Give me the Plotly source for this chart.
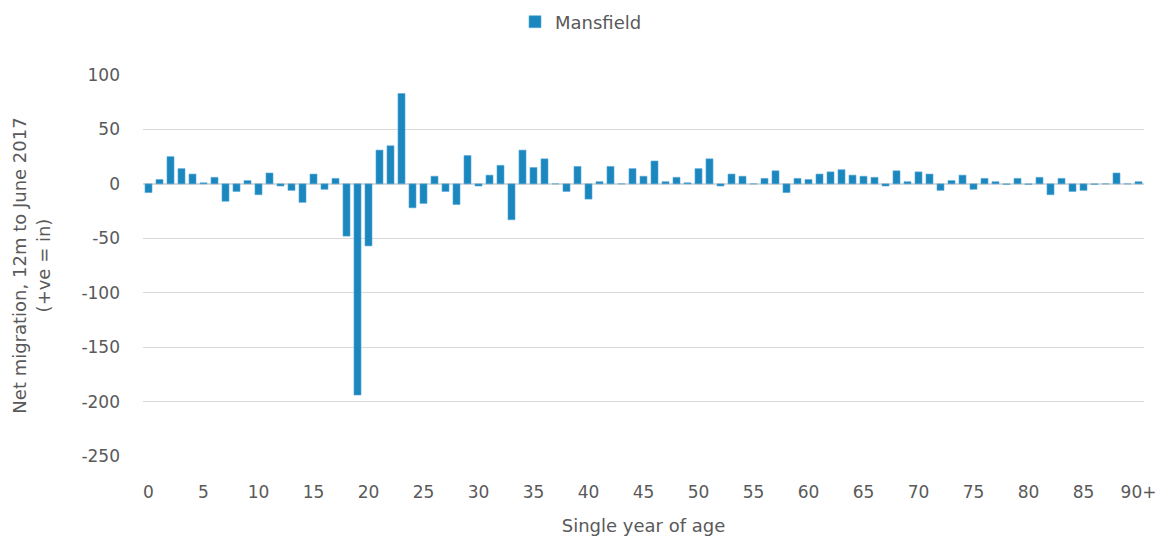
import plotly.graph_objects as go

ages = [str(i) for i in range(90)] + ["90+"]
values = [
    -8, 4, 25, 14, 9, 1, 6, -16, -7, 3,
    -10, 10, -2, -6, -17, 9, -5, 5, -48, -194,
    -57, 31, 35, 83, -22, -18, 7, -7, -19, 26,
    -2, 8, 17, -33, 31, 15, 23, 0, -7, 16,
    -14, 2, 16, 0, 14, 7, 21, 2, 6, 1,
    14, 23, -2, 9, 7, 0, 5, 12, -8, 5,
    4, 9, 11, 13, 8, 7, 6, -2, 12, 2,
    11, 9, -6, 3, 8, -5, 5, 2, -0.5, 5,
    -0.5, 6, -10, 5, -7, -6, -0.5, 0, 10, 0,
    2,
]
x_tick_labels = [str(i) for i in range(0, 90, 5)] + ["90+"]
y_ticks = [100, 50, 0, -50, -100, -150, -200, -250]
y_tick_labels = ["100", "50", "0", "-50", "-100", "-150", "-200", "-250"]

FONT = "DejaVu Sans"
GREY = "#595959"

fig = go.Figure()
fig.add_trace(go.Bar(
    x=ages, y=values, name="Mansfield",
    marker=dict(color="#1a87bf", line=dict(color="#5aaad6", width=0.6)),
    showlegend=True,
))

fig.update_layout(
    width=1162, height=538,
    margin=dict(l=143, r=18, t=75, b=82, autoexpand=False),
    paper_bgcolor="white", plot_bgcolor="white",
    bargap=0.36,
    font=dict(family=FONT, color=GREY, size=17),
    legend=dict(orientation="h", x=0.5, xanchor="center", xref="container",
                y=1 - 22 / 538, yanchor="middle", yref="container",
                font=dict(size=18, color=GREY), itemwidth=30),
    xaxis=dict(
        type="category",
        tickmode="array",
        tickvals=[ages[i] for i in range(0, 91, 5)],
        ticktext=x_tick_labels,
        showgrid=False, showline=False, ticks="",
        ticklabelstandoff=24,
        ticklabeloverflow="allow",
        tickfont=dict(size=17, color=GREY),
        title=dict(text="Single year of age", font=dict(size=18, color=GREY), standoff=18),
    ),
    yaxis=dict(
        range=[-250, 100],
        tickvals=y_ticks,
        ticktext=y_tick_labels,
        showgrid=True, gridcolor="#d9d9d9", gridwidth=1.3,
        zeroline=True, zerolinecolor="#d9d9d9", zerolinewidth=2,
        showline=False, ticks="",
        ticklabelstandoff=22,
        tickfont=dict(size=17, color=GREY),
        title=dict(text="Net migration, 12m to June 2017<br>(+ve = in)",
                   font=dict(size=18, color=GREY), standoff=26),
    ),
)

fig.write_html("out.html",
               config={"displayModeBar": False},
               post_script="document.body.style.margin='0';document.body.style.overflow='hidden';")
